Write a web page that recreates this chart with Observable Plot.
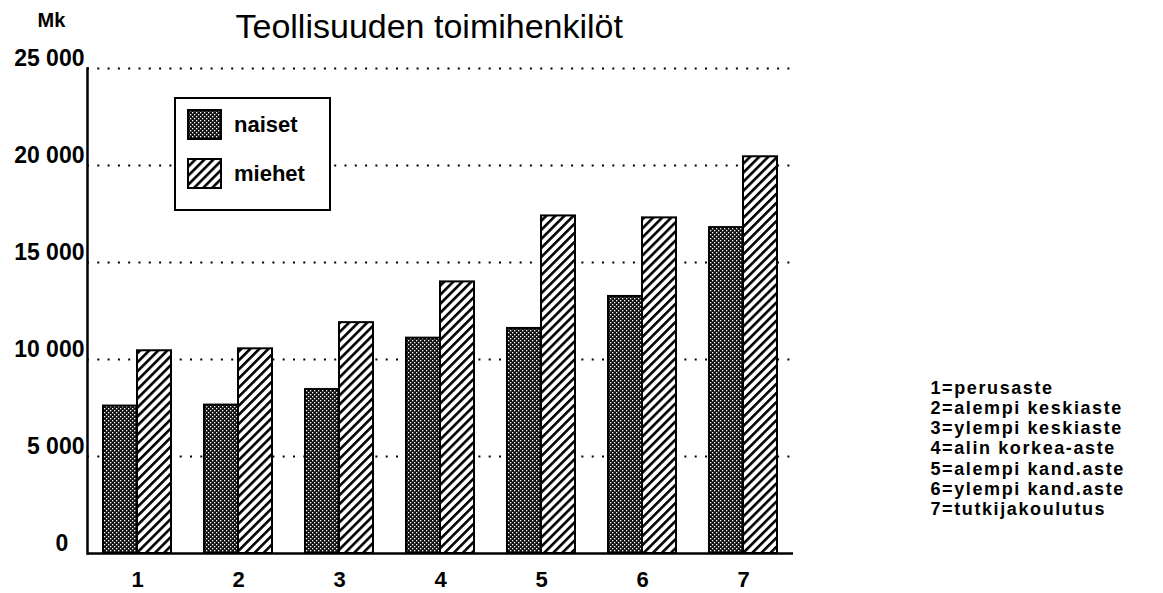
<!DOCTYPE html>
<html>
<head>
<meta charset="utf-8">
<script src="https://cdn.jsdelivr.net/npm/d3@7"></script>
<script src="https://cdn.jsdelivr.net/npm/@observablehq/plot@0.6"></script>
<style>
  html, body { margin: 0; padding: 0; background: #fff; }
  #chart { width: 1163px; height: 593px; }
</style>
</head>
<body>
<div id="chart"></div>
<script>
const title = "Teollisuuden toimihenkilöt";
const unitLabel = "Mk";
const categories = ["1", "2", "3", "4", "5", "6", "7"];
const categoryLabels = ["perusaste", "alempi keskiaste", "ylempi keskiaste", "alin korkea-aste", "alempi kand.aste", "ylempi kand.aste", "tutkijakoulutus"];
const seriesNames = ["naiset", "miehet"];
const naiset = [7600, 7650, 8450, 11100, 11600, 13250, 16800];
const miehet = [10450, 10550, 11900, 14000, 17400, 17300, 20450];
const yTicks = [0, 5000, 10000, 15000, 20000, 25000];

const patternIds = ["pNaiset", "pMiehet"];
const rowsN = categories.map((c, i) => ({cat: c, value: naiset[i]}));
const rowsM = categories.map((c, i) => ({cat: c, value: miehet[i]}));
const fmt = d => d === 0 ? "0\u2002\u2009" : d3.format(",")(d).replace(",", " ");
const keyText = categories.map((c, i) => `${c}=${categoryLabels[i]}`).join("\n");
const FONT = "'Liberation Sans', Arial, Helvetica, sans-serif";

const chart = Plot.plot({
  width: 1163,
  height: 593,
  marginLeft: 87,
  marginRight: 370,
  marginTop: 68,
  marginBottom: 40,
  style: {fontFamily: FONT, fontSize: "22px", fontWeight: "bold", color: "black", background: "white", overflow: "visible"},
  x: {type: "band", domain: categories, paddingInner: 0.331, paddingOuter: 0.135, axis: null, label: null},
  y: {domain: [0, 25000], axis: null, label: null},
  marks: [
    Plot.gridY(yTicks.filter(d => d > 0), {stroke: "black", strokeOpacity: 1, strokeWidth: 2, strokeDasharray: "2,8.3"}),
    Plot.barY(rowsN, {x: "cat", y: "value", fill: `url(#${patternIds[0]})`, stroke: "black", strokeWidth: 2, insetRight: 34}),
    Plot.barY(rowsM, {x: "cat", y: "value", fill: `url(#${patternIds[1]})`, stroke: "black", strokeWidth: 2, insetLeft: 34}),
    Plot.ruleY([0], {stroke: "black", strokeWidth: 2.5}),
    Plot.frame({anchor: "left", stroke: "black", strokeWidth: 2.5}),
    Plot.axisY({ticks: yTicks, tickSize: 0, tickPadding: 3, tickFormat: fmt, dy: -10, fontSize: 23, fontWeight: "bold", label: null}),
    Plot.axisX({tickSize: 0, tickPadding: 18, fontSize: 22, fontWeight: "bold", label: null}),
    Plot.text([title], {frameAnchor: "top-left", dx: 148, dy: -41, textAnchor: "start", lineAnchor: "middle", fontSize: 34, fontWeight: "normal"}),
    Plot.text([unitLabel], {frameAnchor: "top-left", dx: -36, dy: -48, textAnchor: "middle", lineAnchor: "middle", fontSize: 20, fontWeight: "bold"}),
    Plot.text([keyText], {frameAnchor: "right", dx: 137, dy: 137, textAnchor: "start", lineAnchor: "middle", lineHeight: 1.12, fontSize: 18, fontWeight: "bold"})
  ]
});

document.getElementById("chart").appendChild(chart);

// letter spacing for the category key
d3.select(chart).selectAll("text").filter(function() { return this.textContent.startsWith("1="); })
  .attr("letter-spacing", "1.6px");

// patterns
const svg = d3.select(chart);
const defs = svg.insert("defs", ":first-child");
const pn = defs.append("pattern").attr("id", patternIds[0]).attr("patternUnits", "userSpaceOnUse")
  .attr("width", 4).attr("height", 4);
pn.append("rect").attr("width", 4).attr("height", 4).attr("fill", "#111");
pn.append("rect").attr("x", 0).attr("y", 0).attr("width", 1.3).attr("height", 1.3).attr("fill", "#fff");
pn.append("rect").attr("x", 2).attr("y", 2).attr("width", 1.3).attr("height", 1.3).attr("fill", "#fff");
const pm = defs.append("pattern").attr("id", patternIds[1]).attr("patternUnits", "userSpaceOnUse")
  .attr("width", 6.4).attr("height", 6.4).attr("patternTransform", "rotate(45)");
pm.append("rect").attr("width", 6.4).attr("height", 6.4).attr("fill", "#fff");
pm.append("rect").attr("x", 0).attr("width", 2.6).attr("height", 6.4).attr("fill", "#000");

// series legend box
const lg = svg.append("g").attr("font-family", FONT)
  .attr("font-size", 22).attr("font-weight", "bold").attr("text-anchor", "start");
lg.append("rect").attr("x", 175).attr("y", 98).attr("width", 155).attr("height", 112)
  .attr("fill", "#fff").attr("stroke", "#000").attr("stroke-width", 2);
seriesNames.forEach((name, i) => {
  const cy = 124 + i * 49;
  lg.append("rect").attr("x", 188).attr("y", cy - 14).attr("width", 33).attr("height", 29)
    .attr("fill", `url(#${patternIds[i]})`).attr("stroke", "#000").attr("stroke-width", 2);
  lg.append("text").attr("x", 234).attr("y", cy).attr("dy", "0.35em").attr("fill", "#000").text(name);
});
</script>
</body>
</html>
